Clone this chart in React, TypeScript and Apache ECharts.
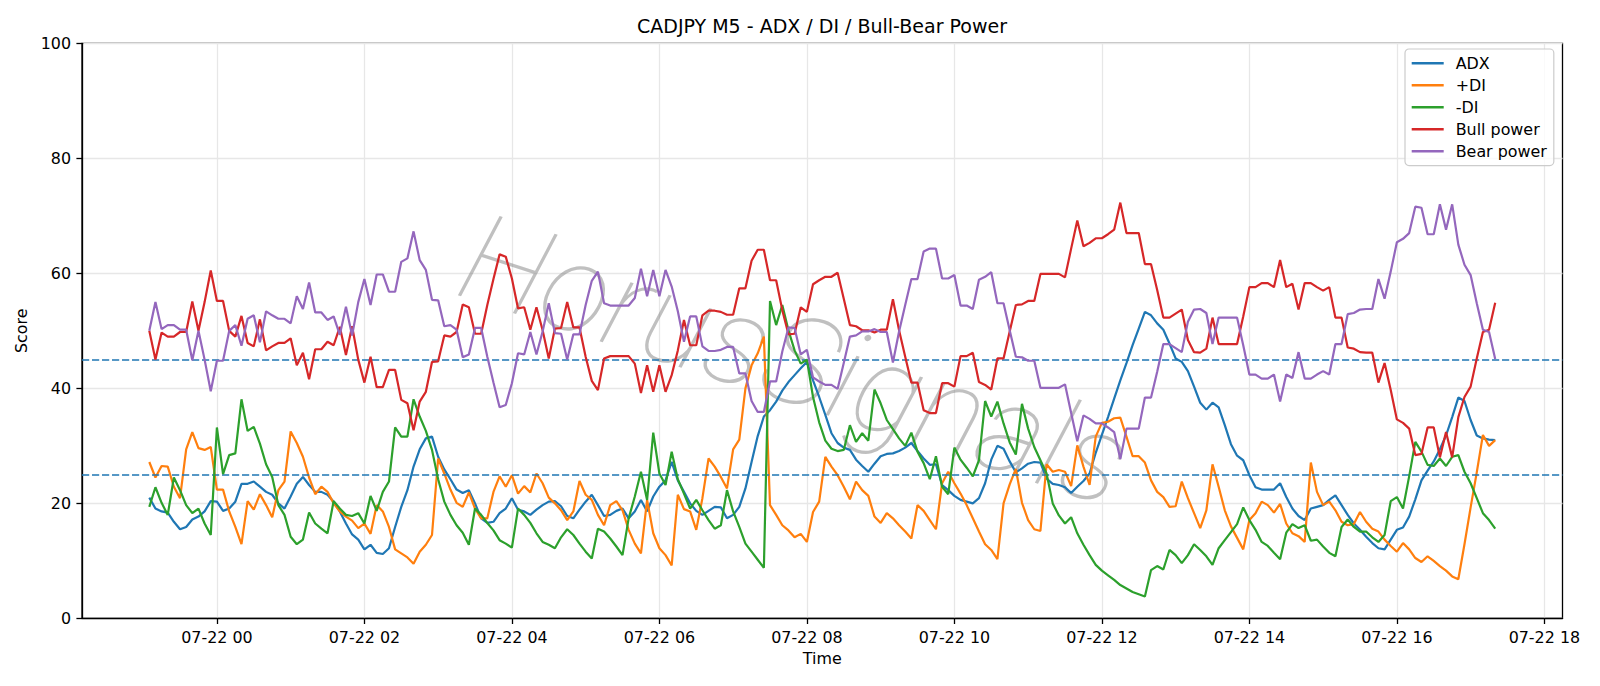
import { useEffect, useRef } from 'react';
import * as echarts from 'echarts';

// Bars are 5 minutes apart; x is expressed in minutes from 07-22 00:00.
const START_MINUTE = -55; // first bar: 07-21 23:05
const STEP_MINUTES = 5;
const X_MIN = -109.75;
const X_MAX = 1094.75;

const TICK_MINUTES = [0, 120, 240, 360, 480, 600, 720, 840, 960, 1080];
const TICK_LABELS = ['07-22 00', '07-22 02', '07-22 04', '07-22 06', '07-22 08', '07-22 10', '07-22 12', '07-22 14', '07-22 16', '07-22 18'];

const THRESHOLDS = [45, 25];

const ADX = [
  21.0, 19.1, 18.6, 18.4, 16.8, 15.5, 15.9, 17.2, 17.7, 18.6, 20.4, 20.3, 18.7, 19.1, 20.3, 23.4, 23.4, 23.8, 22.9, 22.0,
  21.5, 20.0, 19.1, 21.2, 23.4, 24.6, 23.2, 22.0, 22.0, 21.5, 20.3, 18.6, 16.5, 14.6, 13.7, 12.0, 12.8, 11.4, 11.2, 12.2,
  15.9, 19.4, 22.3, 26.4, 29.4, 31.3, 31.6, 28.1, 25.9, 24.2, 22.4, 21.8, 22.3, 20.0, 17.4, 16.6, 16.8, 18.3, 19.1, 20.9,
  18.9, 18.6, 18.0, 18.9, 19.7, 20.3, 20.4, 19.5, 17.8, 17.4, 18.9, 20.3, 21.5, 19.7, 17.8, 18.0, 18.7, 19.1, 17.4, 18.6,
  20.6, 18.6, 21.2, 22.9, 24.0, 27.2, 24.0, 22.0, 20.0, 18.7, 18.0, 18.7, 19.4, 19.3, 17.4, 18.0, 19.4, 22.6, 27.2, 31.7,
  35.1, 36.2, 37.7, 39.6, 41.1, 42.3, 43.5, 44.6, 41.4, 38.5, 35.4, 32.2, 30.5, 29.7, 29.3, 27.6, 26.5, 25.5, 26.9, 28.2,
  28.6, 28.7, 29.1, 29.7, 30.5, 29.1, 27.8, 26.7, 26.8, 23.2, 22.3, 21.3, 20.6, 20.3, 20.0, 20.9, 23.5, 27.6, 30.0, 29.5,
  27.3, 25.4, 26.1, 26.9, 27.2, 27.1, 24.3, 23.4, 23.2, 22.8, 21.8, 22.9, 23.9, 25.2, 28.8, 31.9, 35.0, 38.2, 41.4, 44.4,
  47.5, 50.4, 53.3, 52.7, 51.3, 50.2, 47.8, 45.2, 44.6, 43.0, 40.3, 37.5, 36.3, 37.5, 36.7, 33.6, 30.3, 28.3, 27.5, 24.9,
  22.8, 22.4, 22.4, 22.4, 23.5, 21.1, 19.1, 17.8, 17.1, 19.1, 19.4, 19.7, 20.6, 21.4, 19.7, 18.0, 16.5, 15.4, 14.2, 13.1,
  12.2, 12.0, 13.7, 15.4, 15.8, 17.7, 20.7, 24.0, 25.7, 27.3, 29.4, 31.8, 35.0, 38.4, 37.8, 34.5, 31.8, 31.3, 31.1, 31.0,
];

const PLUS_DI = [
  27.2, 24.5, 26.5, 26.4, 22.9, 20.9, 29.4, 32.4, 29.6, 29.3, 29.8, 22.4, 22.4, 18.6, 15.9, 12.9, 20.4, 18.9, 21.6, 19.7,
  17.6, 22.3, 23.8, 32.5, 30.5, 28.1, 24.5, 21.6, 22.9, 22.0, 20.0, 18.6, 17.7, 17.0, 15.7, 16.5, 14.7, 19.7, 18.6, 15.9,
  12.0, 11.3, 10.6, 9.5, 11.6, 12.8, 14.5, 27.8, 25.2, 22.4, 20.1, 19.4, 21.9, 19.1, 17.4, 17.4, 22.0, 24.7, 22.9, 24.9,
  21.7, 23.0, 21.9, 25.2, 23.5, 21.0, 20.0, 18.8, 17.1, 18.6, 23.9, 21.5, 20.6, 18.0, 16.2, 19.7, 20.4, 18.8, 15.4, 13.0,
  11.3, 20.6, 14.8, 12.2, 11.0, 9.2, 21.5, 19.0, 18.6, 15.4, 20.9, 27.8, 26.4, 24.6, 22.6, 29.4, 31.1, 40.0, 44.0, 46.1,
  49.0, 19.7, 18.0, 16.2, 15.3, 14.1, 14.7, 13.3, 18.5, 20.3, 28.1, 26.4, 24.9, 22.9, 20.7, 23.8, 22.3, 21.3, 17.7, 16.6,
  18.3, 17.4, 16.2, 15.1, 13.9, 19.7, 18.7, 17.1, 15.5, 23.5, 25.5, 23.5, 21.7, 19.7, 17.4, 15.1, 12.9, 11.9, 10.3, 20.0,
  23.3, 26.0, 20.1, 17.1, 15.5, 15.2, 26.8, 25.5, 25.8, 25.5, 23.0, 30.1, 26.4, 23.2, 31.6, 34.0, 34.2, 34.8, 34.9, 31.6,
  28.2, 28.2, 27.1, 24.0, 22.0, 21.1, 19.4, 19.5, 23.8, 20.9, 18.3, 15.7, 18.8, 26.8, 22.9, 18.8, 16.0, 14.0, 12.0, 17.1,
  18.3, 20.3, 19.7, 18.4, 19.9, 16.5, 14.8, 14.3, 13.3, 27.1, 22.0, 19.7, 20.3, 18.8, 16.8, 16.2, 16.4, 18.5, 16.8, 15.6,
  15.1, 13.7, 12.6, 11.6, 13.1, 12.0, 10.5, 9.8, 10.8, 10.0, 9.1, 8.3, 7.3, 6.8, 12.9, 19.3, 25.4, 31.9, 30.0, 31.0,
];

const MINUS_DI = [
  19.4, 22.8, 20.1, 18.0, 24.5, 22.3, 19.7, 18.3, 19.1, 16.5, 14.5, 33.2, 25.1, 28.4, 28.7, 38.1, 32.6, 33.3, 30.4, 26.8,
  24.6, 19.7, 18.0, 14.2, 12.9, 13.7, 18.4, 16.5, 15.6, 14.8, 20.4, 19.1, 18.0, 17.8, 18.3, 16.5, 21.3, 18.7, 22.0, 23.8,
  33.2, 31.6, 31.6, 38.1, 35.1, 32.6, 29.3, 24.2, 20.3, 18.0, 16.2, 14.9, 12.8, 19.1, 18.0, 16.6, 15.3, 13.6, 13.0, 12.3,
  19.1, 18.0, 16.6, 14.8, 13.3, 12.8, 12.2, 14.1, 15.5, 14.5, 13.0, 11.6, 10.4, 15.6, 15.1, 13.9, 12.5, 11.0, 17.4, 21.2,
  25.5, 20.6, 32.3, 25.2, 23.2, 29.0, 24.2, 21.7, 19.1, 20.6, 18.8, 17.1, 15.6, 16.2, 22.3, 18.6, 15.9, 13.0, 11.6, 10.2,
  8.8, 55.2, 51.0, 54.5, 50.1, 46.6, 44.3, 45.0, 38.5, 34.1, 30.9, 29.5, 29.1, 29.3, 33.6, 30.7, 32.2, 30.9, 39.8, 37.4,
  34.5, 32.9, 31.3, 30.0, 32.3, 29.0, 27.0, 24.2, 28.2, 22.9, 21.6, 29.7, 27.6, 26.2, 24.7, 27.5, 37.8, 35.1, 37.7, 33.9,
  30.6, 28.5, 37.3, 33.0, 29.8, 27.5, 25.2, 20.0, 17.9, 16.5, 17.6, 14.8, 12.8, 11.0, 9.3, 8.3, 7.5, 6.7, 5.8, 5.2,
  4.6, 4.2, 3.8, 8.4, 9.1, 8.5, 11.9, 11.0, 9.6, 11.0, 12.9, 11.9, 10.8, 9.3, 12.2, 13.6, 15.0, 16.4, 19.3, 17.1,
  15.4, 13.3, 12.6, 11.4, 10.3, 14.9, 16.4, 15.7, 16.2, 13.5, 13.7, 12.5, 11.4, 10.8, 15.9, 17.2, 15.9, 15.1, 15.1, 14.1,
  13.3, 14.5, 20.4, 21.1, 19.1, 24.7, 30.7, 29.0, 26.7, 26.5, 27.8, 26.5, 28.1, 28.4, 25.5, 23.5, 20.9, 18.3, 17.1, 15.6,
];

const BULL_POWER = [
  50.0, 45.0, 49.7, 49.0, 49.0, 49.8, 49.8, 55.1, 50.0, 55.0, 60.5, 55.2, 55.2, 50.0, 49.0, 52.6, 47.9, 47.3, 52.0, 46.6,
  47.3, 47.9, 47.9, 48.7, 44.0, 46.2, 41.6, 46.8, 46.8, 48.1, 47.5, 50.7, 45.8, 50.8, 45.0, 41.0, 45.5, 40.2, 40.2, 43.2,
  43.2, 38.0, 37.4, 32.7, 37.7, 39.4, 44.6, 44.7, 49.2, 49.0, 49.8, 54.6, 54.1, 49.5, 49.5, 54.5, 59.0, 63.3, 62.9, 59.1,
  53.9, 54.1, 50.2, 54.1, 50.1, 45.2, 50.4, 50.5, 55.0, 50.6, 50.6, 45.5, 41.3, 39.7, 45.2, 45.6, 45.6, 45.6, 45.6, 44.3,
  39.2, 44.0, 39.4, 44.0, 39.4, 42.3, 46.6, 51.9, 47.5, 47.5, 52.7, 53.5, 53.5, 53.3, 52.8, 52.8, 57.4, 57.4, 62.2, 64.1,
  64.1, 58.8, 58.8, 53.6, 49.4, 49.5, 54.1, 53.3, 58.1, 58.8, 59.4, 59.4, 60.1, 55.6, 51.0, 50.8, 50.1, 50.1, 49.7, 50.2,
  50.2, 55.5, 50.1, 45.5, 41.0, 41.0, 36.2, 35.7, 35.7, 40.9, 40.9, 40.3, 45.6, 45.6, 46.2, 41.1, 40.6, 39.8, 45.2, 45.2,
  49.9, 54.5, 54.6, 55.2, 55.2, 59.9, 59.9, 59.9, 59.9, 59.3, 64.3, 69.2, 64.7, 65.3, 66.1, 66.1, 66.8, 67.6, 72.3, 67.0,
  67.0, 67.0, 61.6, 61.6, 57.1, 52.3, 52.3, 53.0, 53.7, 48.4, 46.3, 46.2, 46.9, 52.3, 47.7, 47.7, 47.7, 47.7, 52.5, 57.6,
  57.6, 58.3, 58.3, 57.6, 62.3, 57.6, 58.2, 53.7, 58.3, 58.3, 57.6, 57.0, 57.6, 52.3, 52.3, 47.1, 46.9, 46.3, 46.2, 46.2,
  41.0, 44.4, 39.7, 34.6, 34.0, 33.0, 28.4, 28.6, 33.2, 33.2, 28.0, 32.4, 28.0, 35.0, 38.5, 40.3, 45.2, 49.8, 50.2, 54.9,
];

const BEAR_POWER = [
  50.0, 55.0, 50.3, 51.0, 51.0, 50.2, 50.2, 44.9, 50.0, 45.0, 39.5, 44.8, 44.8, 50.0, 51.0, 47.4, 52.1, 52.7, 48.0, 53.4,
  52.7, 52.1, 52.1, 51.3, 56.0, 53.8, 58.4, 53.2, 53.2, 51.9, 52.5, 49.3, 54.2, 49.2, 55.0, 59.0, 54.5, 59.8, 59.8, 56.8,
  56.8, 62.0, 62.6, 67.3, 62.3, 60.6, 55.4, 55.3, 50.8, 51.0, 50.2, 45.4, 45.9, 50.5, 50.5, 45.5, 41.0, 36.7, 37.1, 40.9,
  46.1, 45.9, 49.8, 45.9, 49.9, 54.8, 49.6, 49.5, 45.0, 49.4, 49.4, 54.5, 58.7, 60.3, 54.8, 54.4, 54.4, 54.4, 54.4, 55.7,
  60.8, 56.0, 60.6, 56.0, 60.6, 57.7, 53.4, 48.1, 52.5, 52.5, 47.3, 46.5, 46.5, 46.7, 47.2, 47.2, 42.6, 42.6, 37.8, 35.9,
  35.9, 41.2, 41.2, 46.4, 50.6, 50.5, 45.9, 46.7, 41.9, 41.2, 40.6, 40.6, 39.9, 44.4, 49.0, 49.2, 49.9, 49.9, 50.3, 49.8,
  49.8, 44.5, 49.9, 54.5, 59.0, 59.0, 63.8, 64.3, 64.3, 59.1, 59.1, 59.7, 54.4, 54.4, 53.8, 58.9, 59.4, 60.2, 54.8, 54.8,
  50.1, 45.5, 45.4, 44.8, 44.8, 40.1, 40.1, 40.1, 40.1, 40.7, 35.7, 30.8, 35.3, 34.7, 33.9, 33.9, 33.2, 32.4, 27.7, 33.0,
  33.0, 33.0, 38.4, 38.4, 42.9, 47.7, 47.7, 47.0, 46.3, 51.6, 53.7, 53.8, 53.1, 47.7, 52.3, 52.3, 52.3, 52.3, 47.5, 42.4,
  42.4, 41.7, 41.7, 42.4, 37.7, 42.4, 41.8, 46.3, 41.7, 41.7, 42.4, 43.0, 42.4, 47.7, 47.7, 52.9, 53.1, 53.7, 53.8, 53.8,
  59.0, 55.6, 60.3, 65.4, 66.0, 67.0, 71.6, 71.4, 66.8, 66.8, 72.0, 67.6, 72.0, 65.0, 61.5, 59.7, 54.8, 50.2, 49.8, 45.1,
];

const SERIES_DEFS = [
  { name: 'ADX', values: ADX, color: '#1f77b4' },
  { name: '+DI', values: PLUS_DI, color: '#ff7f0e' },
  { name: '-DI', values: MINUS_DI, color: '#2ca02c' },
  { name: 'Bull power', values: BULL_POWER, color: '#d62728' },
  { name: 'Bear power', values: BEAR_POWER, color: '#9467bd' },
];

const FONT = 'DejaVu Sans';

function toPoints(values: number[]) {
  return values.map((v, i) => [START_MINUTE + STEP_MINUTES * i, v]);
}

export default function App() {
  const ref = useRef<HTMLDivElement>(null);

  useEffect(() => {
    if (!ref.current) return;
    const chart = echarts.init(ref.current, null, { renderer: 'svg' });

    const series: any[] = SERIES_DEFS.map((s, idx) => ({
      name: s.name,
      type: 'line',
      data: toPoints(s.values),
      symbol: 'none',
      showSymbol: false,
      silent: true,
      color: s.color,
      lineStyle: { color: s.color, width: 2.2 },
      emphasis: { disabled: true },
      z: 3 + idx,
      markLine:
        idx === SERIES_DEFS.length - 1
          ? {
              silent: true,
              symbol: ['none', 'none'],
              label: { show: false },
              emphasis: { disabled: true },
              lineStyle: { color: '#1f77b4', width: 1.6, type: [7.2, 2.8], opacity: 1 },
              data: THRESHOLDS.map((t) => ({ yAxis: t })),
            }
          : undefined,
    }));

    chart.setOption({
      animation: false,
      backgroundColor: '#ffffff',
      title: {
        text: 'CADJPY M5 - ADX / DI / Bull-Bear Power',
        left: 822,
        top: 16,
        textAlign: 'center',
        padding: 0,
        textStyle: { fontFamily: FONT, fontSize: 19, fontWeight: 'normal', color: '#000' },
      },
      legend: {
        data: SERIES_DEFS.map((s) => s.name),
        orient: 'vertical',
        left: 1405,
        top: 49,
        padding: [3.3, 7, 3.3, 6.7],
        itemGap: 0,
        itemWidth: 32,
        itemHeight: 2.4,
        icon: 'rect',
        selectedMode: false,
        backgroundColor: 'rgba(255,255,255,0.8)',
        borderColor: '#cccccc',
        borderWidth: 1.2,
        borderRadius: 4,
        textStyle: { fontFamily: FONT, fontSize: 15.9, color: '#000', lineHeight: 22, padding: [0, 0, 0, 7] },
        z: 20,
      },
      grid: {
        left: 82,
        top: 43.3,
        width: 1480.5,
        height: 575.1,
        show: true,
        borderColor: '#000',
        borderWidth: 1.3,
        backgroundColor: 'transparent',
      },
      xAxis: {
        type: 'value',
        min: X_MIN,
        max: X_MAX,
        name: 'Time',
        nameLocation: 'middle',
        nameGap: 28,
        nameTextStyle: { fontFamily: FONT, fontSize: 15.9, color: '#000' },
        axisLine: { show: true, onZero: false, lineStyle: { color: '#000', width: 1.3 } },
        axisTick: { show: true, length: 5.6, customValues: TICK_MINUTES, lineStyle: { color: '#000', width: 1.3 } },
        axisLabel: {
          customValues: TICK_MINUTES,
          margin: 11,
          fontFamily: FONT,
          fontSize: 15.9,
          color: '#000',
          formatter: (v: number) => {
            const k = TICK_MINUTES.indexOf(Math.round(v));
            return k >= 0 ? TICK_LABELS[k] : '';
          },
        },
        splitLine: { show: true, lineStyle: { color: '#e7e7e7', width: 1.27 } },
      },
      yAxis: {
        type: 'value',
        min: 0,
        max: 100,
        interval: 20,
        name: 'Score',
        nameLocation: 'middle',
        nameGap: 45,
        nameTextStyle: { fontFamily: FONT, fontSize: 15.9, color: '#000' },
        axisLine: { show: true, onZero: false, lineStyle: { color: '#000', width: 1.3 } },
        axisTick: { show: true, length: 5.6, lineStyle: { color: '#000', width: 1.3 } },
        axisLabel: { margin: 11, fontFamily: FONT, fontSize: 15.9, color: '#000' },
        splitLine: { show: true, lineStyle: { color: '#e7e7e7', width: 1.27 } },
      },
      graphic: [
        {
          type: 'text',
          x: 795,
          y: 360,
          rotation: (-18 * Math.PI) / 180,
          silent: true,
          z: 1,
          style: {
            text: 'HorusSignals',
            fontFamily: 'Roboto',
            fontSize: 124,
            fontWeight: 100,
            fontStyle: 'italic',
            fill: 'rgba(130,130,130,0.5)',
            textAlign: 'center',
            textVerticalAlign: 'middle',
          },
        },
      ],
      series,
    });

    return () => {
      chart.dispose();
    };
  }, []);

  return (
    <div
      ref={ref}
      style={{ position: 'absolute', left: 0, top: 0, width: 1600, height: 686, background: '#fff' }}
    />
  );
}
